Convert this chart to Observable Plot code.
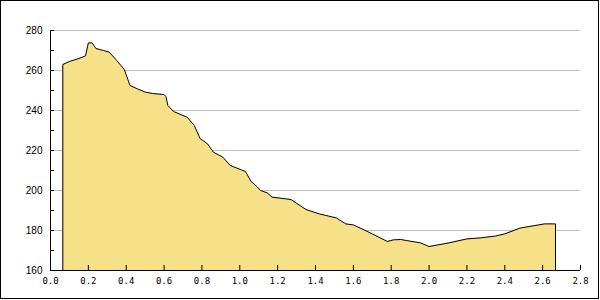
<!DOCTYPE html>
<html>
<head>
<meta charset="utf-8">
<script src="https://cdn.jsdelivr.net/npm/d3@7"></script>
<script src="https://cdn.jsdelivr.net/npm/@observablehq/plot@0.6"></script>
<style>
  html, body { margin: 0; padding: 0; background: #fff; }
  #wrap { position: relative; width: 600px; height: 300px; overflow: hidden; }
  #frame { position: absolute; left: 0; top: 0; width: 597px; height: 297px; border: 1px solid #000; pointer-events: none; }
  #wrap svg { position: absolute; left: 0; top: 0; }
</style>
</head>
<body>
<div id="wrap"><div id="frame"></div></div>
<script>
const xs = [0.065, 0.10, 0.15, 0.185, 0.20, 0.22, 0.24, 0.28, 0.31, 0.35, 0.39, 0.42, 0.46, 0.50, 0.54, 0.60, 0.61, 0.62, 0.65, 0.70, 0.72, 0.76, 0.79, 0.83, 0.86, 0.91, 0.95, 1.03, 1.06, 1.09, 1.11, 1.145, 1.17, 1.27, 1.35, 1.42, 1.51, 1.56, 1.60, 1.67, 1.78, 1.81, 1.85, 1.88, 1.955, 2.00, 2.10, 2.20, 2.27, 2.35, 2.40, 2.48, 2.61, 2.668];
const ys = [263, 264.5, 266, 267.3, 273.8, 273.8, 271, 270, 269.2, 265, 260.5, 252.5, 250.8, 249.2, 248.5, 248, 247, 242.5, 239.5, 237.5, 236.8, 232.5, 226, 223.3, 219.2, 216.7, 212.5, 209.5, 204.5, 202, 200, 198.8, 196.7, 195.5, 190.5, 188.3, 186.3, 183.3, 182.8, 179.7, 174.5, 175.3, 175.5, 175, 173.8, 172, 173.7, 175.8, 176.3, 177.2, 178.3, 181.2, 183.3, 183.3];
const xTicks = [0, 0.2, 0.4, 0.6, 0.8, 1.0, 1.2, 1.4, 1.6, 1.8, 2.0, 2.2, 2.4, 2.6, 2.8];
const yTicks = [160, 180, 200, 220, 240, 260, 280];
const yMinorTicks = [160, 170, 180, 190, 200, 210, 220, 230, 240, 250, 260, 270, 280];
const yGrid = [180, 200, 220, 240, 260, 280];
const yBase = 160;

const data = xs.map((x, i) => ({x, y: ys[i]}));
const outline = [{x: xs[0], y: yBase}, ...data, {x: xs[xs.length - 1], y: yBase}];

const chart = Plot.plot({
  width: 600,
  height: 300,
  marginLeft: 50,
  marginRight: 20,
  marginTop: 30,
  marginBottom: 30,
  x: {domain: [0, 2.8], label: null},
  y: {domain: [160, 280], label: null},
  marks: [
    Plot.gridY(yGrid, {stroke: "#c0c0c0", strokeOpacity: 1}),
    Plot.areaY(data, {x: "x", y: "y", y1: yBase, fill: "#f7e188"}),
    Plot.line(outline, {x: "x", y: "y", stroke: "#000", strokeWidth: 1}),
    Plot.ruleY([yBase], {stroke: "#000"}),
    Plot.ruleX([0], {stroke: "#000"}),
    Plot.axisY({ticks: yMinorTicks, tickSize: -4, tickFormat: () => "", stroke: "#000", label: null}),
    Plot.axisY({ticks: yTicks, tickSize: 0, tickPadding: 8, fontSize: 10, fontFamily: "Liberation Sans, Arial, sans-serif", fill: "#000", label: null}),
    Plot.axisX({ticks: xTicks, tickSize: -5, tickFormat: () => "", stroke: "#000", label: null}),
    Plot.axisX({ticks: xTicks, tickSize: 0, tickPadding: 7, tickFormat: d3.format(".1f"), fontSize: 9, fontFamily: "DejaVu Sans Mono, monospace", fill: "#000", label: null})
  ]
});
chart.style.fontFamily = "Liberation Sans, Arial, sans-serif";
document.getElementById("wrap").insertBefore(chart, document.getElementById("frame"));
</script>
</body>
</html>
